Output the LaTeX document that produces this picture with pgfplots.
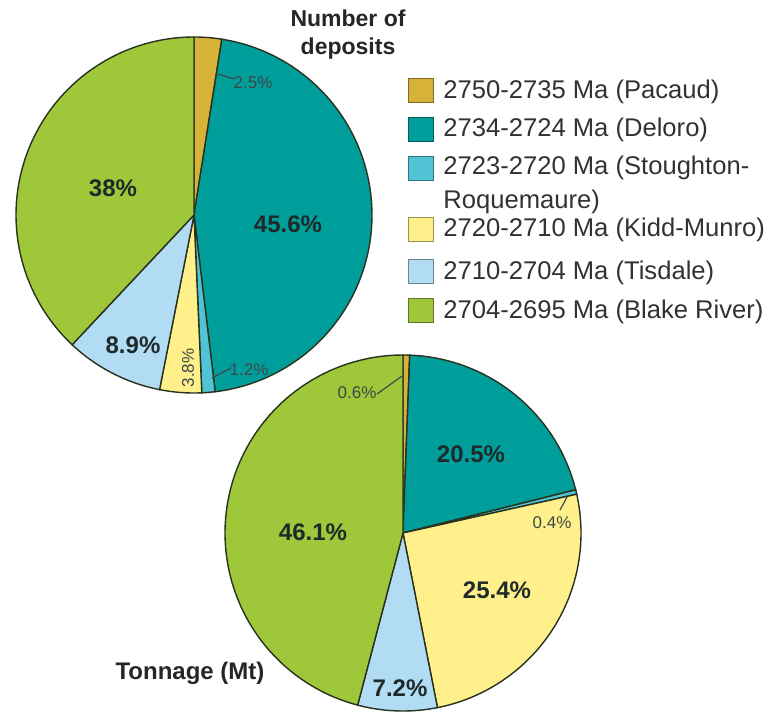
\documentclass[border=0pt]{standalone}
\usepackage{pgfplots}
\pgfplotsset{compat=1.18}
\usepackage{fontspec}
\setmainfont{Liberation Sans}
\definecolor{pacaud}{RGB}{214,178,56}
\definecolor{deloro}{RGB}{0,158,155}
\definecolor{stough}{RGB}{80,195,212}
\definecolor{kidd}{RGB}{255,240,140}
\definecolor{tisdale}{RGB}{178,220,243}
\definecolor{blake}{RGB}{158,200,58}
\definecolor{edge}{RGB}{40,50,30}
\definecolor{lbl}{RGB}{30,42,42}
\definecolor{sml}{RGB}{60,72,72}
\definecolor{legtxt}{RGB}{50,50,50}
% slice: center x, center y, cumulative start %, cumulative end %, colour
\newcommand\slice[5]{%
  \addplot[fill=#5, draw=edge, line width=0.7pt, domain={90-3.6*#4}:{90-3.6*#3}, samples=90]
    ({#1+178*cos(x)},{#2+178*sin(x)}) -- (axis cs:#1,#2) -- cycle;}
\newcommand\legbox[2]{% top y (px), colour
  \addplot[fill=#2, draw=#2!60!black, line width=0.5pt] coordinates
    {(408,{711-#1}) (433,{711-#1}) (433,{711-#1-24}) (408,{711-#1-24})} -- cycle;}
\begin{document}
\begin{tikzpicture}
\begin{axis}[width=390pt, height=355.5pt, scale only axis,
  xmin=0, xmax=780, ymin=0, ymax=711, hide axis, clip=false]
\path (axis cs:0,0) rectangle (axis cs:780,711);
% ---- Number of deposits (%)
\slice{194}{496}{0}{2.5}{pacaud}
\slice{194}{496}{2.5}{48.1}{deloro}
\slice{194}{496}{48.1}{49.3}{stough}
\slice{194}{496}{49.3}{53.1}{kidd}
\slice{194}{496}{53.1}{62.0}{tisdale}
\slice{194}{496}{62.0}{100}{blake}
% ---- Tonnage (Mt) (%)
\slice{403}{178}{0}{0.6}{pacaud}
\slice{403}{178}{0.6}{21.1}{deloro}
\slice{403}{178}{21.1}{21.5}{stough}
\slice{403}{178}{21.5}{46.9}{kidd}
\slice{403}{178}{46.9}{54.1}{tisdale}
\slice{403}{178}{54.1}{100}{blake}
% leader lines
\addplot[sml, line width=0.6pt] coordinates {(218,637) (234,632)};
\addplot[sml, line width=0.6pt] coordinates {(212,333) (231,343)};
\addplot[sml, line width=0.6pt] coordinates {(377,317) (402,335)};
\addplot[sml, line width=0.6pt] coordinates {(567,214) (560,201)};
% labels
\begin{scope}[every node/.style={font=\bfseries\fontsize{12}{14}\selectfont, text=lbl}]
\node at (axis cs:113,523) {38\%};
\node at (axis cs:288,487) {45.6\%};
\node at (axis cs:133,366) {8.9\%};
\node at (axis cs:471,257) {20.5\%};
\node at (axis cs:313,179) {46.1\%};
\node at (axis cs:497,121) {25.4\%};
\node at (axis cs:400,23) {7.2\%};
\end{scope}
\begin{scope}[every node/.style={font=\fontsize{8.5}{10}\selectfont, text=sml, inner sep=0.5pt}]
\node at (axis cs:253,628) {2.5\%};
\node at (axis cs:249,341) {1.2\%};
\node[rotate=90] at (axis cs:188,343) {3.8\%};
\node at (axis cs:357,318) {0.6\%};
\node at (axis cs:552,188) {0.4\%};
\end{scope}
% titles
\node[font=\bfseries\fontsize{11.5}{14}\selectfont, align=center, text=black!85] at (axis cs:348,676) {Number of\\deposits};
\node[font=\bfseries\fontsize{12}{14}\selectfont, text=black!85] at (axis cs:190,38) {Tonnage (Mt)};
% legend
\legbox{79}{pacaud}
\legbox{118}{deloro}
\legbox{157}{stough}
\legbox{218}{kidd}
\legbox{260}{tisdale}
\legbox{299}{blake}
\begin{scope}[every node/.style={font=\fontsize{12.8}{17}\selectfont, text=legtxt, anchor=west, inner sep=0pt}]
\node at (axis cs:443,619) {2750-2735 Ma (Pacaud)};
\node at (axis cs:443,581) {2734-2724 Ma (Deloro)};
\node at (axis cs:443,543) {2723-2720 Ma (Stoughton-};
\node at (axis cs:443,509) {Roquemaure)};
\node at (axis cs:443,481) {2720-2710 Ma (Kidd-Munro)};
\node at (axis cs:443,438) {2710-2704 Ma (Tisdale)};
\node at (axis cs:443,399) {2704-2695 Ma (Blake River)};
\end{scope}
\end{axis}
\end{tikzpicture}
\end{document}
